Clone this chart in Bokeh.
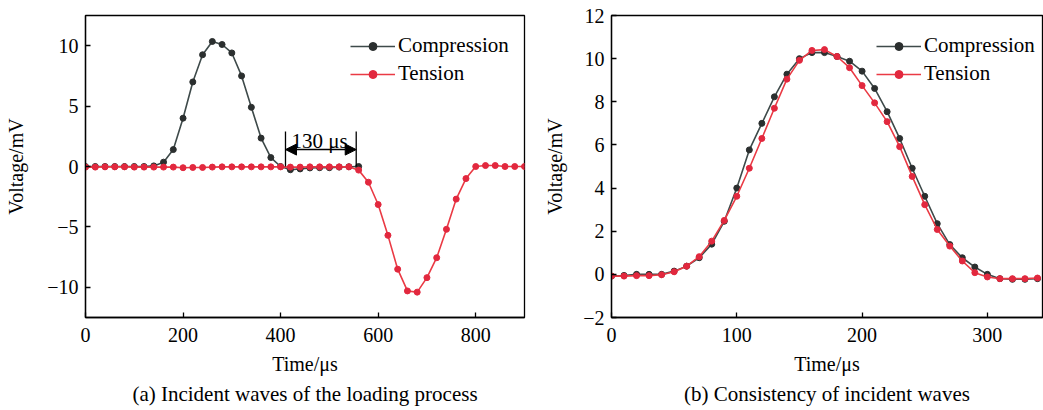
from bokeh.plotting import figure
from bokeh.models import (Legend, LegendItem, Arrow, NormalHead, Title,
                          FixedTicker, Range1d, ColumnDataSource)
from bokeh.layouts import row
from bokeh.embed import file_html
from bokeh.resources import INLINE
from bokeh.core.properties import value

# ---------------- data: panel (a) ----------------
a_comp_t = [0, 20, 40, 60, 80, 100, 120, 140, 160, 180, 200, 220, 240, 260, 280,
            300, 320, 340, 360, 380, 400, 420, 440, 460, 480, 500, 520, 540, 560]
a_comp_v = [0.0, 0.0, 0.0, 0.0, 0.0, 0.0, 0.0, 0.05, 0.36, 1.4, 4.0, 7.0, 9.25, 10.35, 10.1,
            9.4, 7.5, 4.9, 2.35, 0.74, 0.0, -0.27, -0.2, -0.12, -0.1, -0.1, -0.05, -0.02, 0.0]

a_tens_t = [0, 20, 40, 60, 80, 100, 120, 140, 160, 180, 200, 220, 240, 260, 280, 300,
            320, 340, 360, 380, 400, 420, 440, 460, 480, 500, 520, 540, 560, 580, 600,
            620, 640, 660, 680, 700, 720, 740, 760, 780, 800, 820, 840, 860, 880, 900]
a_tens_v = [-0.05, -0.05, -0.03, -0.03, -0.03, -0.05, -0.05, -0.05, -0.05, -0.05, -0.1, -0.08,
            -0.08, -0.05, -0.03, -0.03, -0.03, -0.03, -0.03, -0.03, -0.03, -0.05, -0.05,
            -0.03, -0.03, -0.03, -0.03, -0.03, -0.3, -1.3, -3.15, -5.7, -8.5, -10.3, -10.4,
            -9.2, -7.55, -5.2, -2.7, -1.0, 0.0, 0.08, 0.08, 0.0, 0.0, 0.0]

a_xticks = [0, 200, 400, 600, 800]
a_yticks = [-10, -5, 0, 5, 10]
a_ylabels = {-10: "\u221210", -5: "\u22125", 0: "0", 5: "5", 10: "10"}

# 130 us bracket annotation (data coordinates)
ann_x = [410, 555]
ann_y_low = [0.0, 0.0]
ann_y_high = [2.9, 2.9]
ann_arrow_y = 1.4
ann_text = "130 \u03bcs"
ann_text_x = 480
ann_text_y = 2.15

# ---------------- data: panel (b) ----------------
b_t = [0, 10, 20, 30, 40, 50, 60, 70, 80, 90, 100, 110, 120, 130, 140, 150, 160, 170,
       180, 190, 200, 210, 220, 230, 240, 250, 260, 270, 280, 290, 300, 310, 320, 330, 340]
b_comp_v = [-0.08, -0.05, 0.0, 0.0, 0.0, 0.15, 0.38, 0.77, 1.4, 2.46, 4.0, 5.77, 7.0, 8.23,
            9.28, 10.0, 10.28, 10.28, 10.1, 9.88, 9.42, 8.62, 7.54, 6.3, 4.92, 3.62, 2.35,
            1.38, 0.77, 0.34, 0.0, -0.2, -0.23, -0.23, -0.2]
b_tens_v = [-0.08, -0.08, -0.06, -0.06, -0.02, 0.12, 0.38, 0.82, 1.54, 2.5, 3.62, 4.92, 6.3,
            7.7, 9.05, 9.92, 10.38, 10.42, 10.1, 9.58, 8.75, 7.95, 7.08, 5.92, 4.54, 3.23,
            2.08, 1.31, 0.62, 0.08, -0.12, -0.2, -0.2, -0.2, -0.17]

b_xticks = [0, 100, 200, 300]
b_yticks = [-2, 0, 2, 4, 6, 8, 10, 12]
b_ylabels = {-2: "\u22122", 0: "0", 2: "2", 4: "4", 6: "6", 8: "8", 10: "10", 12: "12"}

series_names = ["Compression", "Tension"]
x_label = "Time/\u03bcs"
y_label = "Voltage/mV"
captions = ["(a) Incident waves of the loading process", "(b) Consistency of incident waves"]

FONT = "'Liberation Serif', serif"
COMP_LINE = "#3e4a4a"
COMP_MARK = "#2b2f2f"
TENS_LINE = "#ea3a44"
TENS_MARK = "#e2283e"


def style(p, xticks, yticks, ylabels, caption, ylab_standoff):
    p.outline_line_color = "black"
    p.outline_line_width = 1.3
    p.xgrid.visible = False
    p.ygrid.visible = False
    p.background_fill_color = "white"
    p.border_fill_color = "white"
    for ax in (p.xaxis[0], p.yaxis[0]):
        ax.axis_line_color = "black"
        ax.axis_line_width = 1.3
        ax.major_tick_in = 5
        ax.major_tick_out = 0
        ax.major_tick_line_width = 1.3
        ax.minor_tick_line_color = None
        ax.major_label_text_font = FONT
        ax.major_label_text_font_size = "20px"
        ax.major_label_text_color = "black"
        ax.axis_label_text_font = FONT
        ax.axis_label_text_font_size = "20px"
        ax.axis_label_text_font_style = "normal"
        ax.axis_label_text_color = "black"
    p.xaxis[0].ticker = FixedTicker(ticks=xticks)
    p.yaxis[0].ticker = FixedTicker(ticks=yticks)
    p.yaxis[0].major_label_overrides = ylabels
    p.xaxis[0].axis_label = x_label
    p.yaxis[0].axis_label = y_label
    p.xaxis[0].major_label_standoff = 10
    p.xaxis[0].axis_label_standoff = 8
    p.yaxis[0].major_label_standoff = 7
    p.yaxis[0].axis_label_standoff = ylab_standoff
    p.add_layout(Title(text=caption, align="center", text_font=FONT,
                       text_font_size="21px", text_font_style="normal",
                       text_color="black", standoff=5), "below")


def add_series(p, t1, v1, t2, v2, size):
    src1 = ColumnDataSource(dict(t=t1, v=v1))
    src2 = ColumnDataSource(dict(t=t2, v=v2))
    l1 = p.line("t", "v", source=src1, line_color=COMP_LINE, line_width=1.6)
    s1 = p.scatter("t", "v", source=src1, size=size, fill_color=COMP_MARK,
                   line_color=COMP_MARK)
    l2 = p.line("t", "v", source=src2, line_color=TENS_LINE, line_width=1.6)
    s2 = p.scatter("t", "v", source=src2, size=size, fill_color=TENS_MARK,
                   line_color=TENS_MARK)
    legend = Legend(items=[LegendItem(label=series_names[0], renderers=[l1, s1]),
                           LegendItem(label=series_names[1], renderers=[l2, s2])],
                    location=(265, 231), padding=0, spacing=3, margin=0,
                    glyph_width=45, glyph_height=20, label_height=20,
                    label_standoff=3, border_line_color=None,
                    background_fill_alpha=0, label_text_font=FONT,
                    label_text_font_size="21px", label_text_color="black")
    p.add_layout(legend, "center")


# ---------------- panel (a) ----------------
pa = figure(width=540, height=410, output_backend="svg", toolbar_location=None,
            x_range=Range1d(0, 900), y_range=Range1d(-12.5, 12.5),
            min_border_left=85, min_border_right=16, min_border_top=15,
            min_border_bottom=93)
style(pa, a_xticks, a_yticks, a_ylabels, captions[0], 17)
add_series(pa, a_comp_t, a_comp_v, a_tens_t, a_tens_v, 6)

pa.segment(x0=ann_x, x1=ann_x, y0=ann_y_low, y1=ann_y_high, line_color="black",
           line_width=1.3)
pa.add_layout(Arrow(x_start=ann_x[0], x_end=ann_x[1], y_start=ann_arrow_y,
                    y_end=ann_arrow_y, line_color="black", line_width=1.5,
                    start=NormalHead(size=11, fill_color="black", line_color="black"),
                    end=NormalHead(size=11, fill_color="black", line_color="black")))
pa.text(x=[ann_text_x], y=[ann_text_y], text=[ann_text], text_font=value(FONT),
        text_font_size="21px", text_align="center", text_baseline="alphabetic",
        text_color="black")

# ---------------- panel (b) ----------------
pb = figure(width=503, height=410, output_backend="svg", toolbar_location=None,
            x_range=Range1d(0, 344), y_range=Range1d(-2, 12),
            min_border_left=71, min_border_right=1, min_border_top=15,
            min_border_bottom=93)
style(pb, b_xticks, b_yticks, b_ylabels, captions[1], 14)
add_series(pb, b_t, b_comp_v, b_t, b_tens_v, 6)

layout = row(pa, pb)
open("out.html", "w").write(file_html(layout, INLINE))
